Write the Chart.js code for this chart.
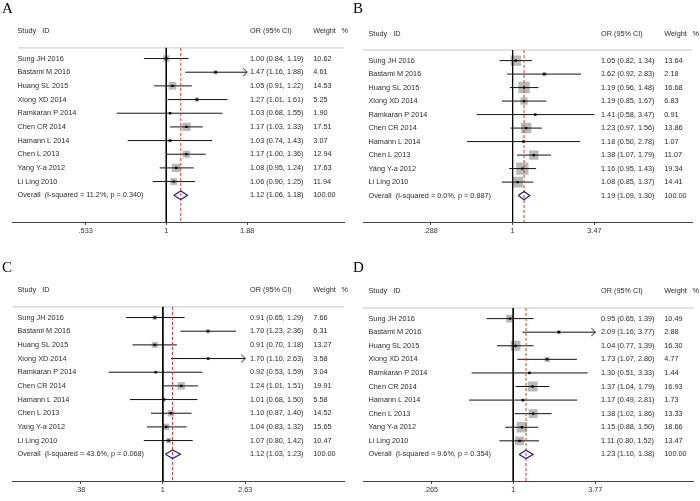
<!DOCTYPE html>
<html>
<head>
<meta charset="utf-8">
<script src="https://cdn.jsdelivr.net/npm/chart.js@4.4.0/dist/chart.umd.min.js"></script>
<style>
  body { margin: 0; background: #fff; width: 700px; height: 501px; position: relative; overflow: hidden; }
  .panel { position: absolute; width: 350px; height: 242px; }
</style>
</head>
<body>
<div class="panel" style="left:0;top:0"><canvas id="chartA" width="350" height="242"></canvas></div>
<div class="panel" style="left:351px;top:0"><canvas id="chartB" width="350" height="242"></canvas></div>
<div class="panel" style="left:0;top:259px"><canvas id="chartC" width="350" height="242"></canvas></div>
<div class="panel" style="left:351px;top:259px"><canvas id="chartD" width="350" height="242"></canvas></div>
<script>
// Study labels (same order in every panel)
const studies = ['Sung JH 2016', 'Bastami M 2016', 'Huang SL 2015', 'Xiong XD 2014', 'Ramkaran P 2014',
                 'Chen CR 2014', 'Hamann L 2014', 'Chen L 2013', 'Yang Y-a 2012', 'Li Ling 2010'];

// Panel A
const orA = [1.00, 1.47, 1.05, 1.27, 1.03, 1.17, 1.03, 1.17, 1.08, 1.06];
const lowA = [0.84, 1.16, 0.91, 1.01, 0.68, 1.03, 0.74, 1.00, 0.95, 0.90];
const highA = [1.19, 1.88, 1.22, 1.61, 1.55, 1.33, 1.43, 1.36, 1.24, 1.25];
const weightA = [10.62, 4.61, 14.53, 5.25, 1.90, 17.51, 3.07, 12.94, 17.63, 11.94];
const overallA = [1.12, 1.06, 1.18];
const hetA = 'Overall  (I-squared = 11.2%, p = 0.340)';
const ticksA = [0.533, 1, 1.88];
const tickLabelsA = ['.533', '1', '1.88'];
const arrowRowsA = [1];

// Panel B
const orB = [1.05, 1.62, 1.19, 1.19, 1.41, 1.23, 1.18, 1.38, 1.16, 1.08];
const lowB = [0.82, 0.92, 0.96, 0.85, 0.58, 0.97, 0.50, 1.07, 0.95, 0.85];
const highB = [1.34, 2.83, 1.48, 1.67, 3.47, 1.56, 2.78, 1.79, 1.43, 1.37];
const weightB = [13.64, 2.18, 16.68, 6.83, 0.91, 13.86, 1.07, 11.07, 19.34, 14.41];
const overallB = [1.19, 1.09, 1.30];
const hetB = 'Overall  (I-squared = 0.0%, p = 0.887)';
const ticksB = [0.288, 1, 3.47];
const tickLabelsB = ['.288', '1', '3.47'];
const arrowRowsB = [];

// Panel C
const orC = [0.91, 1.70, 0.91, 1.70, 0.92, 1.24, 1.01, 1.10, 1.04, 1.07];
const lowC = [0.65, 1.23, 0.70, 1.10, 0.53, 1.01, 0.68, 0.87, 0.83, 0.80];
const highC = [1.29, 2.36, 1.18, 2.63, 1.59, 1.51, 1.50, 1.40, 1.32, 1.42];
const weightC = [7.66, 6.31, 13.27, 3.58, 3.04, 19.91, 5.58, 14.52, 15.65, 10.47];
const overallC = [1.12, 1.03, 1.23];
const hetC = 'Overall  (I-squared = 43.6%, p = 0.068)';
const ticksC = [0.38, 1, 2.63];
const tickLabelsC = ['.38', '1', '2.63'];
const arrowRowsC = [3];

// Panel D
const orD = [0.95, 2.09, 1.04, 1.73, 1.30, 1.37, 1.17, 1.38, 1.15, 1.11];
const lowD = [0.65, 1.16, 0.77, 1.07, 0.51, 1.04, 0.49, 1.02, 0.88, 0.80];
const highD = [1.39, 3.77, 1.39, 2.80, 3.33, 1.79, 2.81, 1.86, 1.50, 1.52];
const weightD = [10.49, 2.88, 16.30, 4.77, 1.44, 16.93, 1.73, 13.33, 18.66, 13.47];
const overallD = [1.23, 1.10, 1.38];
const hetD = 'Overall  (I-squared = 9.6%, p = 0.354)';
const ticksD = [0.265, 1, 3.77];
const tickLabelsD = ['.265', '1', '3.77'];
const arrowRowsD = [1];

// layout of one panel (canvas pixels)
const AREA_LEFT = 12, AREA_RIGHT = 345;
const X_ONE = 163.3, X_MAX = 246;
const ROW_TOP = 54, ROW_GAP = 14.05, AXIS_Y = 222;
const HEADER_ROW = -0.78, TITLE_ROW = -2;
const COL_STUDY = 17.5, COL_OR = 250, COL_WEIGHT = 313.3, COL_PCT = 341.5;
const TEXT_FONT = '7.3px "Liberation Sans", Arial, sans-serif';
const TEXT_COLOR = '#2b2b2b';

Chart.defaults.font.family = '"Liberation Sans", Arial, sans-serif';

// open arrow head used where a CI runs past the axis range
const arrowImg = document.createElement('canvas');
arrowImg.width = 10; arrowImg.height = 10;
(function () {
  const c = arrowImg.getContext('2d');
  c.strokeStyle = '#111'; c.lineWidth = 1;
  c.beginPath(); c.moveTo(1, 1); c.lineTo(5, 5); c.lineTo(1, 9); c.stroke();
})();

const fmt = v => v.toFixed(2);

function drawPanel(id, letter, or, low, high, weight, overall, het, ticks, tickLabels, arrowRows, box) {
  const M = ticks[ticks.length - 1];
  const pxPerLn = (X_MAX - X_ONE) / Math.log(M);
  const xMin = Math.exp(-(X_ONE - AREA_LEFT) / pxPerLn);
  const xMax = Math.exp((AREA_RIGHT - X_ONE) / pxPerLn);
  const yMin = -ROW_TOP / ROW_GAP;
  const yMax = yMin + AXIS_Y / ROW_GAP;
  const overallRow = studies.length;

  const points = or.map((v, i) => ({x: v, y: i}));
  const ciData = [];
  or.forEach((v, i) => {
    ciData.push({x: Math.max(low[i], 1 / M), y: i});
    ciData.push({x: Math.min(high[i], M), y: i});
    ciData.push({x: v, y: null});
  });
  const diamond = [
    {x: overall[1], y: overallRow}, {x: overall[0], y: overallRow - 0.31},
    {x: overall[2], y: overallRow}, {x: overall[0], y: overallRow + 0.31},
    {x: overall[1], y: overallRow}
  ];
  const arrows = arrowRows.map(i => ({x: Math.min(high[i], M), y: i}));

  const textPlugin = {
    id: 'forestText' + letter,
    afterDraw(chart) {
      const c = chart.ctx;
      const y = chart.scales.y;
      c.save();
      c.fillStyle = '#000';
      c.font = '15px "Liberation Serif", "Times New Roman", serif';
      c.textBaseline = 'alphabetic';
      c.fillText(letter, 2, 13);
      c.fillStyle = TEXT_COLOR;
      c.font = TEXT_FONT;
      c.textBaseline = 'middle';
      const ty = y.getPixelForValue(TITLE_ROW);
      c.fillText('Study   ID', COL_STUDY, ty);
      c.fillText('OR (95% CI)', COL_OR, ty);
      c.fillText('Weight', COL_WEIGHT, ty);
      c.fillText('%', COL_PCT, ty);
      studies.forEach((s, i) => {
        const py = y.getPixelForValue(i);
        c.fillText(s, COL_STUDY, py);
        c.fillText(fmt(or[i]) + ' (' + fmt(low[i]) + ', ' + fmt(high[i]) + ')', COL_OR, py);
        c.fillText(fmt(weight[i]), COL_WEIGHT, py);
      });
      const oy = y.getPixelForValue(overallRow);
      c.fillText(het, COL_STUDY, oy);
      c.fillText(fmt(overall[0]) + ' (' + fmt(overall[1]) + ', ' + fmt(overall[2]) + ')', COL_OR, oy);
      c.fillText('100.00', COL_WEIGHT, oy);
      c.restore();
    }
  };

  new Chart(document.getElementById(id), {
    type: 'scatter',
    data: {
      datasets: [
        { // arrow heads
          data: arrows, pointStyle: arrowImg, pointRadius: 5, order: 1
        },
        { // overall diamond
          data: diamond, showLine: true, pointRadius: 0, borderColor: '#232378',
          borderWidth: 1.2, fill: false, order: 2
        },
        { // point estimate dots
          data: points, pointStyle: 'rect', pointRadius: 1.6, backgroundColor: '#000',
          borderWidth: 0, order: 3
        },
        { // overall estimate (dashed)
          data: [{x: overall[0], y: HEADER_ROW}, {x: overall[0], y: yMax}],
          showLine: true, pointRadius: 0, borderColor: '#c83c3c', borderWidth: 1,
          borderDash: [3, 2], order: 4
        },
        { // null line
          data: [{x: 1, y: HEADER_ROW}, {x: 1, y: yMax}],
          showLine: true, pointRadius: 0, borderColor: '#000', borderWidth: 1, order: 5
        },
        { // confidence intervals
          data: ciData, showLine: true, spanGaps: false, pointRadius: 0,
          borderColor: '#111', borderWidth: 1, order: 6
        },
        { // weight boxes
          data: points, pointStyle: 'rect', borderWidth: 0, backgroundColor: '#b9b9b9',
          pointRadius: ctx => box * Math.sqrt(weight[ctx.dataIndex]) / Math.SQRT2, order: 7
        },
        { // header rule
          data: [{x: xMin, y: HEADER_ROW}, {x: xMax, y: HEADER_ROW}],
          showLine: true, pointRadius: 0, borderColor: '#c8c8c8', borderWidth: 1, order: 8
        }
      ]
    },
    options: {
      responsive: false,
      animation: false,
      events: [],
      layout: { padding: { left: AREA_LEFT, right: 350 - AREA_RIGHT, top: 0, bottom: 0 } },
      plugins: { legend: { display: false }, tooltip: { enabled: false } },
      scales: {
        x: {
          type: 'logarithmic',
          min: xMin,
          max: xMax,
          afterBuildTicks: scale => { scale.ticks = ticks.map(v => ({value: v})); },
          afterFit: scale => { scale.height = 242 - AXIS_Y; },
          ticks: {
            autoSkip: false, maxRotation: 0, padding: 2,
            color: '#333', font: { size: 7.3 },
            callback: (v, i) => tickLabels[i]
          },
          grid: { display: true, drawOnChartArea: false, drawTicks: true, tickLength: 3, color: '#444' },
          border: { display: true, color: '#444', width: 1 }
        },
        y: {
          type: 'linear', display: false, reverse: true, min: yMin, max: yMax
        }
      }
    },
    plugins: [textPlugin]
  });
}

drawPanel('chartA', 'A', orA, lowA, highA, weightA, overallA, hetA, ticksA, tickLabelsA, arrowRowsA, 1.98);
drawPanel('chartB', 'B', orB, lowB, highB, weightB, overallB, hetB, ticksB, tickLabelsB, arrowRowsB, 2.8);
drawPanel('chartC', 'C', orC, lowC, highC, weightC, overallC, hetC, ticksC, tickLabelsC, arrowRowsC, 1.65);
drawPanel('chartD', 'D', orD, lowD, highD, weightD, overallD, hetD, ticksD, tickLabelsD, arrowRowsD, 2.42);
</script>
</body>
</html>
